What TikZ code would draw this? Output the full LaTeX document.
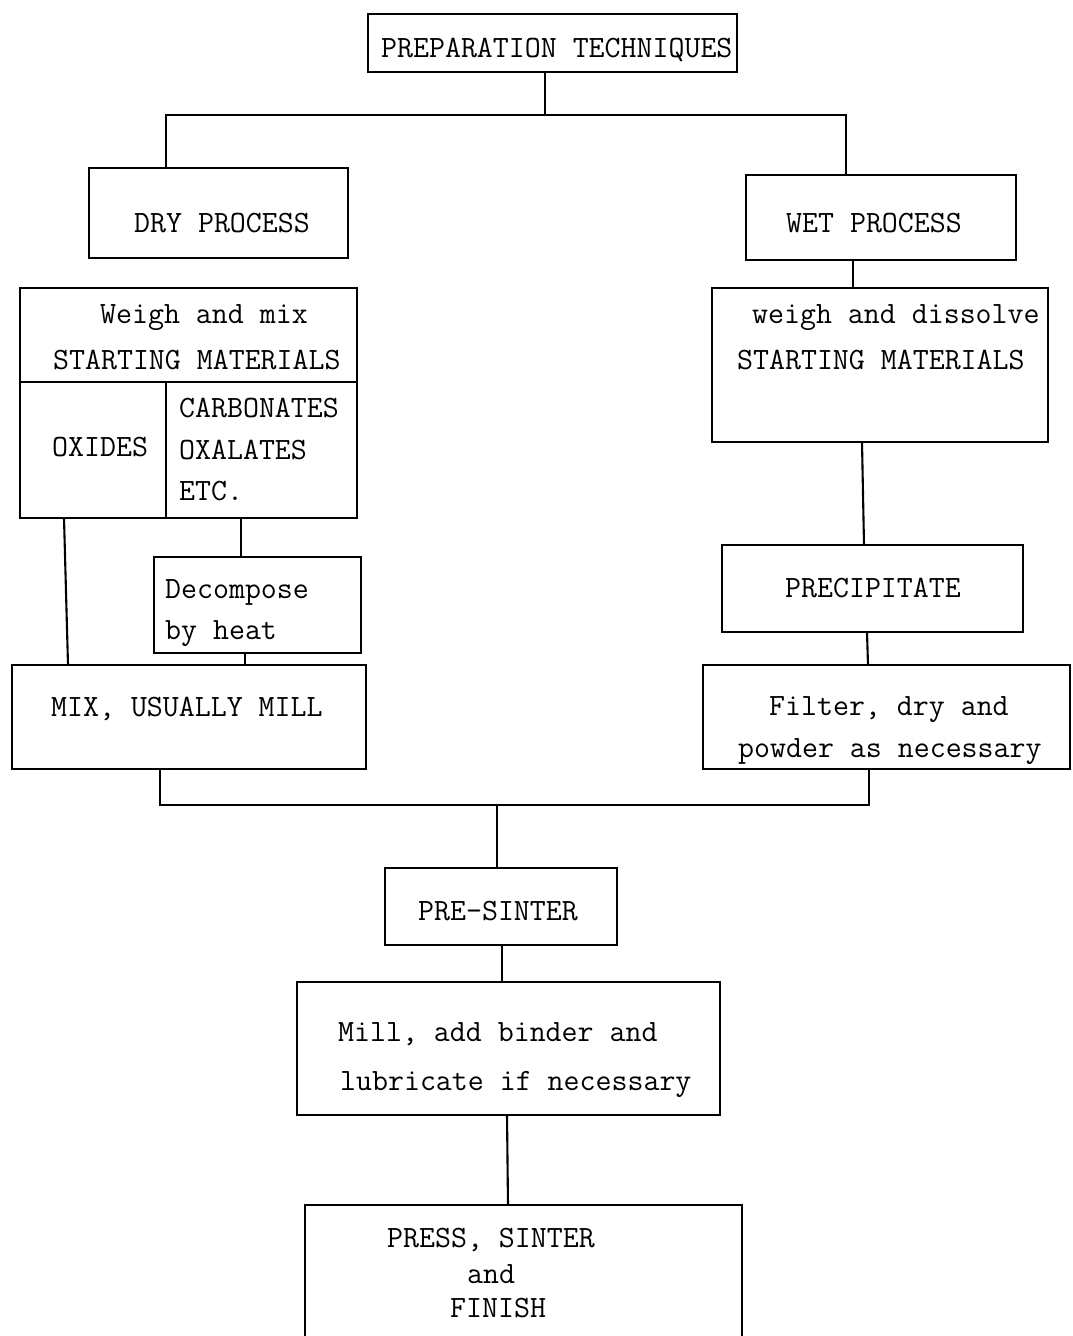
\documentclass[tikz,border=0pt]{standalone}
\usetikzlibrary{calc}
\begin{document}
\begin{tikzpicture}[x=1pt,y=-1pt,
  box/.style={draw=black, line width=2.3pt, rectangle, inner sep=0pt, outer sep=0pt},
  lnk/.style={draw=black, line width=2.1pt},
  txt/.style={inner sep=0pt, anchor=base west, font=\fontsize{31}{36}\selectfont\ttfamily}]
\useasboundingbox[fill=white] (0,0) rectangle (1072,1336);
% boxes
\node[box, minimum width=369, minimum height=58] (prep) at (552.5,43) {};
\node[box, minimum width=259, minimum height=90] (dry) at (218.5,213) {};
\node[box, minimum width=270, minimum height=85] (wet) at (881,217.5) {};
\node[box, minimum width=337, minimum height=94] (wmix) at (188.5,335) {};
\node[box, minimum width=146, minimum height=136] (oxides) at (93,450) {};
\node[box, minimum width=191, minimum height=136] (carb) at (261.5,450) {};
\node[box, minimum width=207, minimum height=96] (decomp) at (257.5,605) {};
\node[box, minimum width=354, minimum height=104] (mix) at (189,717) {};
\node[box, minimum width=336, minimum height=154] (wdis) at (880,365) {};
\node[box, minimum width=301, minimum height=87] (precip) at (872.5,588.5) {};
\node[box, minimum width=367, minimum height=104] (filter) at (886.5,717) {};
\node[box, minimum width=232, minimum height=77] (presint) at (501,906.5) {};
\node[box, minimum width=423, minimum height=133] (mill) at (508.5,1048.5) {};
\node[inner sep=0pt, outer sep=0pt, minimum width=437, minimum height=131] (press) at (523.5,1270.5) {};
\draw[line width=2.3pt] (press.south west) -- (press.north west) -- (press.north east) -- (press.south east);
% texts
\node[txt] (prepT) at (381,57) {PREPARATION TECHNIQUES};
\node[txt] (dryT) at (134,232) {DRY PROCESS};
\node[txt] (wetT) at (786,232) {WET PROCESS};
\node[txt] (wmixT1) at (100,323) {Weigh and mix};
\node[txt] (wmixT2) at (53,369) {STARTING MATERIALS};
\node[txt] (oxT) at (52,456) {OXIDES};
\node[txt] (carbT1) at (179,417) {CARBONATES};
\node[txt] (carbT2) at (179,459) {OXALATES};
\node[txt] (carbT3) at (179,500) {ETC.};
\node[txt] (decT1) at (165,598) {Decompose};
\node[txt] (decT2) at (165,639) {by heat};
\node[txt] (mixT) at (51,716) {MIX, USUALLY MILL};
\node[txt] (wdisT1) at (752,323) {weigh and dissolve};
\node[txt] (wdisT2) at (737,369) {STARTING MATERIALS};
\node[txt] (precT) at (785,597) {PRECIPITATE};
\node[txt] (filT1) at (769,715) {Filter, dry and};
\node[txt] (filT2) at (738,757) {powder as necessary};
\node[txt] (presT) at (418,920) {PRE-SINTER};
\node[txt] (millT1) at (338,1041) {Mill, add binder and};
\node[txt] (millT2) at (340,1090) {lubricate if necessary};
\node[txt] (pressT1) at (387,1247) {PRESS, SINTER};
\node[txt] (pressT2) at (467,1283) {and};
\node[txt] (pressT3) at (450,1317) {FINISH};
% junctions
\coordinate (jt) at (545,115);
\coordinate (jl) at (166,115);
\coordinate (jr) at (846,115);
\coordinate (jbl) at (160,805);
\coordinate (jbm) at (497,805);
\coordinate (jbr) at (869,805);
% connectors
\draw[lnk] (prep.south -| jt) -- (jt);
\draw[lnk] (dry.north -| jl) -- (jl) -- (jr) -- (wet.north -| jr);
\draw[lnk] ([xshift=107]wet.south west) -- ([xshift=141]wdis.north west);
\draw[lnk] ([xshift=150]wdis.south west) -- ([xshift=142]precip.north west);
\draw[lnk] ([xshift=145]precip.south west) -- ([xshift=165]filter.north west);
\draw[lnk] ([xshift=44]oxides.south west) -- ([xshift=56]mix.north west);
\draw[lnk] ([xshift=75]carb.south west) -- ([xshift=87]decomp.north west);
\draw[lnk] ([xshift=91]decomp.south west) -- ([xshift=233]mix.north west);
\draw[lnk] (mix.south -| jbl) -- (jbl) -- (jbr) -- (filter.south -| jbr);
\draw[lnk] (jbm) -- (presint.north -| jbm);
\draw[lnk] ([xshift=117]presint.south west) -- ([xshift=205]mill.north west);
\draw[lnk] ([xshift=210]mill.south west) -- ([xshift=203]press.north west);
\end{tikzpicture}
\end{document}
